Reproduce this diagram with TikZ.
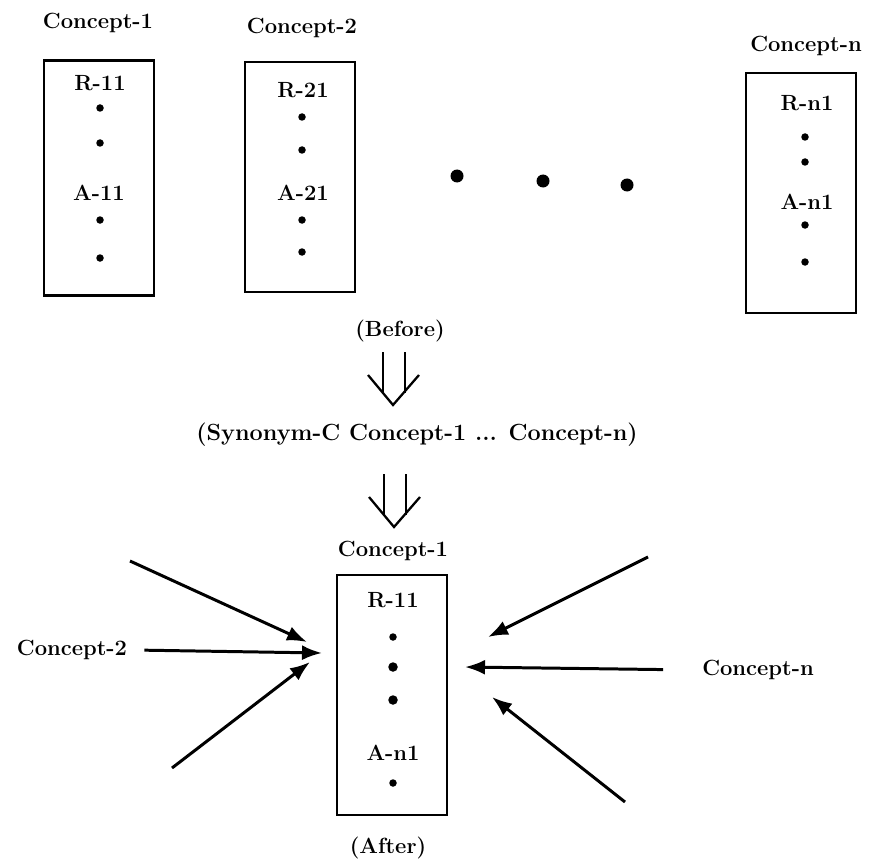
\documentclass[tikz,border=0pt]{standalone}
\usepackage{tikz}
\usetikzlibrary{arrows.meta,positioning,calc}

\begin{document}
\begin{tikzpicture}[
    x=0.2mm, y=-0.2mm,
    every node/.style={font=\fontsize{12.5}{14}\selectfont\bfseries},
    frame/.style={
        rectangle,
        draw,
        line width=1.5pt,
        minimum width=22mm,
        inner sep=0pt
    },
    smalldot/.style={circle, fill, inner sep=0pt, minimum size=1.5mm},
    bigdot/.style={circle, fill, inner sep=0pt, minimum size=2.6mm},
    link/.style={line width=1.7pt, -{Latex[length=4mm,width=3mm]}},
    pair/.style={line width=1.3pt}
]
\useasboundingbox (0,0) rectangle (869,863);

% Before: the separate concepts
\node (c1lab) at (98,23) {Concept-1};
\node[frame, minimum height=47mm] (box1) at (99,178) {};
\node (r11) at (100,83) {R-11};
\node (a11) at (99,193) {A-11};
\foreach \y in {108,143,220,258} {
    \node[smalldot] at (100,\y) {};
}

\node (c2lab) at (302,28) {Concept-2};
\node[frame, minimum height=46mm] (box2) at (300,177) {};
\node (r21) at (303,90) {R-21};
\node (a21) at (303,193) {A-21};
\foreach \y in {117,150,220,252} {
    \node[smalldot] at (302,\y) {};
}

\node (cnlab) at (806,46) {Concept-n};
\node[frame, minimum height=48mm] (boxn) at (801,193) {};
\node (rn1) at (807,103) {R-n1};
\node (an1) at (807,202) {A-n1};
\foreach \y in {137,162,225,262} {
    \node[smalldot] at (805,\y) {};
}

% Dots between the boxes
\foreach \x/\y in {457/176, 543/181, 627/185} {
    \node[bigdot] at (\x,\y) {};
}

% Merge step
\node (before) at (400,331) {(Before)};
\node[font=\fontsize{13.3}{15}\selectfont\bfseries] (syn) at (417,435) {(Synonym-C Concept-1 ... Concept-n)};
\coordinate (ap1) at (393,405);
\coordinate (ap2) at (394,527);
\foreach \ap in {ap1,ap2} {
    \draw[pair] ([shift={(-10,-53)}]\ap) -- ([shift={(-10,-11)}]\ap);
    \draw[pair] ([shift={(12,-53)}]\ap) -- ([shift={(12,-12)}]\ap);
    \draw[pair] ([shift={(-25,-30)}]\ap) -- (\ap) -- ([shift={(26,-30)}]\ap);
}

% After: the merged concept
\node (c1new) at (393,551) {Concept-1};
\node[frame, minimum height=48mm] (boxnew) at (392,695) {};
\node (r11new) at (393,600) {R-11};
\node (an1new) at (393,753) {A-n1};
\foreach \y in {637,783} {
    \node[smalldot] at (393,\y) {};
}
\foreach \y in {667,700} {
    \node[smalldot, minimum size=1.9mm] at (393,\y) {};
}
\node (after) at (388,848) {(After)};

% Other concepts pointing in
\node (c2new) at (72,650) {Concept-2};
\node (cnnew) at (758,670) {Concept-n};

\coordinate (lt1) at (130,561);
\coordinate (lt3) at (172,768);
\coordinate (lp1) at (307,642);
\coordinate (lp2) at (322,653);
\coordinate (lp3) at (310,662);
\coordinate (rt1) at (648,557);
\coordinate (rt3) at (625,802);
\coordinate (rp1) at (488,637);
\coordinate (rp2) at (465,667);
\coordinate (rp3) at (492,697);

\draw[link] (lt1) -- (lp1);
\draw[link, shorten <=2.2mm] (c2new.east) -- (lp2);
\draw[link] (lt3) -- (lp3);
\draw[link] (rt1) -- (rp1);
\draw[link, shorten <=6.6mm] (cnnew.west) -- (rp2);
\draw[link] (rt3) -- (rp3);

\end{tikzpicture}
\end{document}
